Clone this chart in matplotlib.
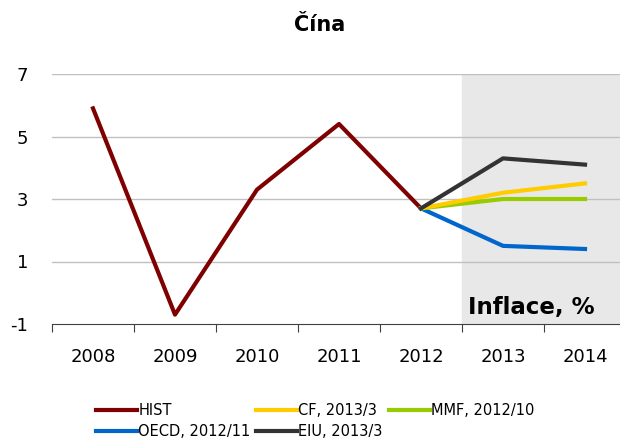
import matplotlib
matplotlib.use("Agg")
import matplotlib.pyplot as plt
import numpy as np

years = ["2008", "2009", "2010", "2011", "2012", "2013", "2014"]
hist = [5.9, -0.7, 3.3, 5.4, 2.7]
cf = [2.7, 3.2, 3.5]
mmf = [2.7, 3.0, 3.0]
oecd = [2.7, 1.5, 1.4]
eiu = [2.7, 4.3, 4.1]

plt.rcParams['font.family'] = ['DejaVu Sans']

fig = plt.figure(figsize=(6.2, 4.45), dpi=100)
ax = fig.add_axes([52/620, 1-324/445, 574/620, 250/445])

x = np.arange(len(years))
xf = x[4:]

ax.axvspan(4.5, 6.5, color='#e8e8e8', zorder=0)
for v in [1, 3, 5, 7]:
	ax.axhline(v, color='#c0c0c0', lw=1, zorder=1)

l_hist, = ax.plot(x[:5], hist, color='#7f0000', lw=3, zorder=3, label='HIST')
l_oecd, = ax.plot(xf, oecd, color='#0066cc', lw=3, zorder=3, label='OECD, 2012/11')
l_mmf, = ax.plot(xf, mmf, color='#99cc00', lw=3, zorder=3, label='MMF, 2012/10')
l_cf, = ax.plot(xf, cf, color='#ffcc00', lw=3, zorder=3, label='CF, 2013/3')
l_eiu, = ax.plot(xf, eiu, color='#333333', lw=3, zorder=3, label='EIU, 2013/3')

ax.set_xlim(-0.5, 6.5)
ax.set_ylim(-1, 7)
ax.set_yticks([-1, 1, 3, 5, 7])
ax.set_yticklabels(['-1', '1', '3', '5', '7'])
ax.set_xticks(np.arange(-0.5, 7, 1))
ax.set_xticklabels([])
ax.set_xticks(x, minor=True)
ax.set_xticklabels(years, minor=True)
ax.tick_params(axis='x', which='major', length=6, color='#404040', direction='out')
ax.tick_params(axis='x', which='minor', length=0, pad=17, labelsize=13)
ax.tick_params(axis='y', length=0, pad=17, labelsize=13)

for s in ['top', 'right', 'left']:
	ax.spines[s].set_visible(False)
ax.spines['bottom'].set_color('#404040')

fig.text(320/620, 1-25/445, 'Čína', ha='center', va='center', fontsize=15, fontweight='bold')
ax.text(6.12, -0.46, 'Inflace, %', ha='right', va='center', fontsize=16.5, fontweight='bold')

fig.legend(handles=[l_hist, l_oecd, l_cf, l_eiu, l_mmf], ncol=3, frameon=False,
		   loc='upper left', bbox_to_anchor=(90/620, 1-397/445), fontsize=10.5,
		   handlelength=2.8, handletextpad=0.1, columnspacing=0.4,
		   labelspacing=0.45, borderaxespad=0)

fig.savefig('out.png', dpi=100)
